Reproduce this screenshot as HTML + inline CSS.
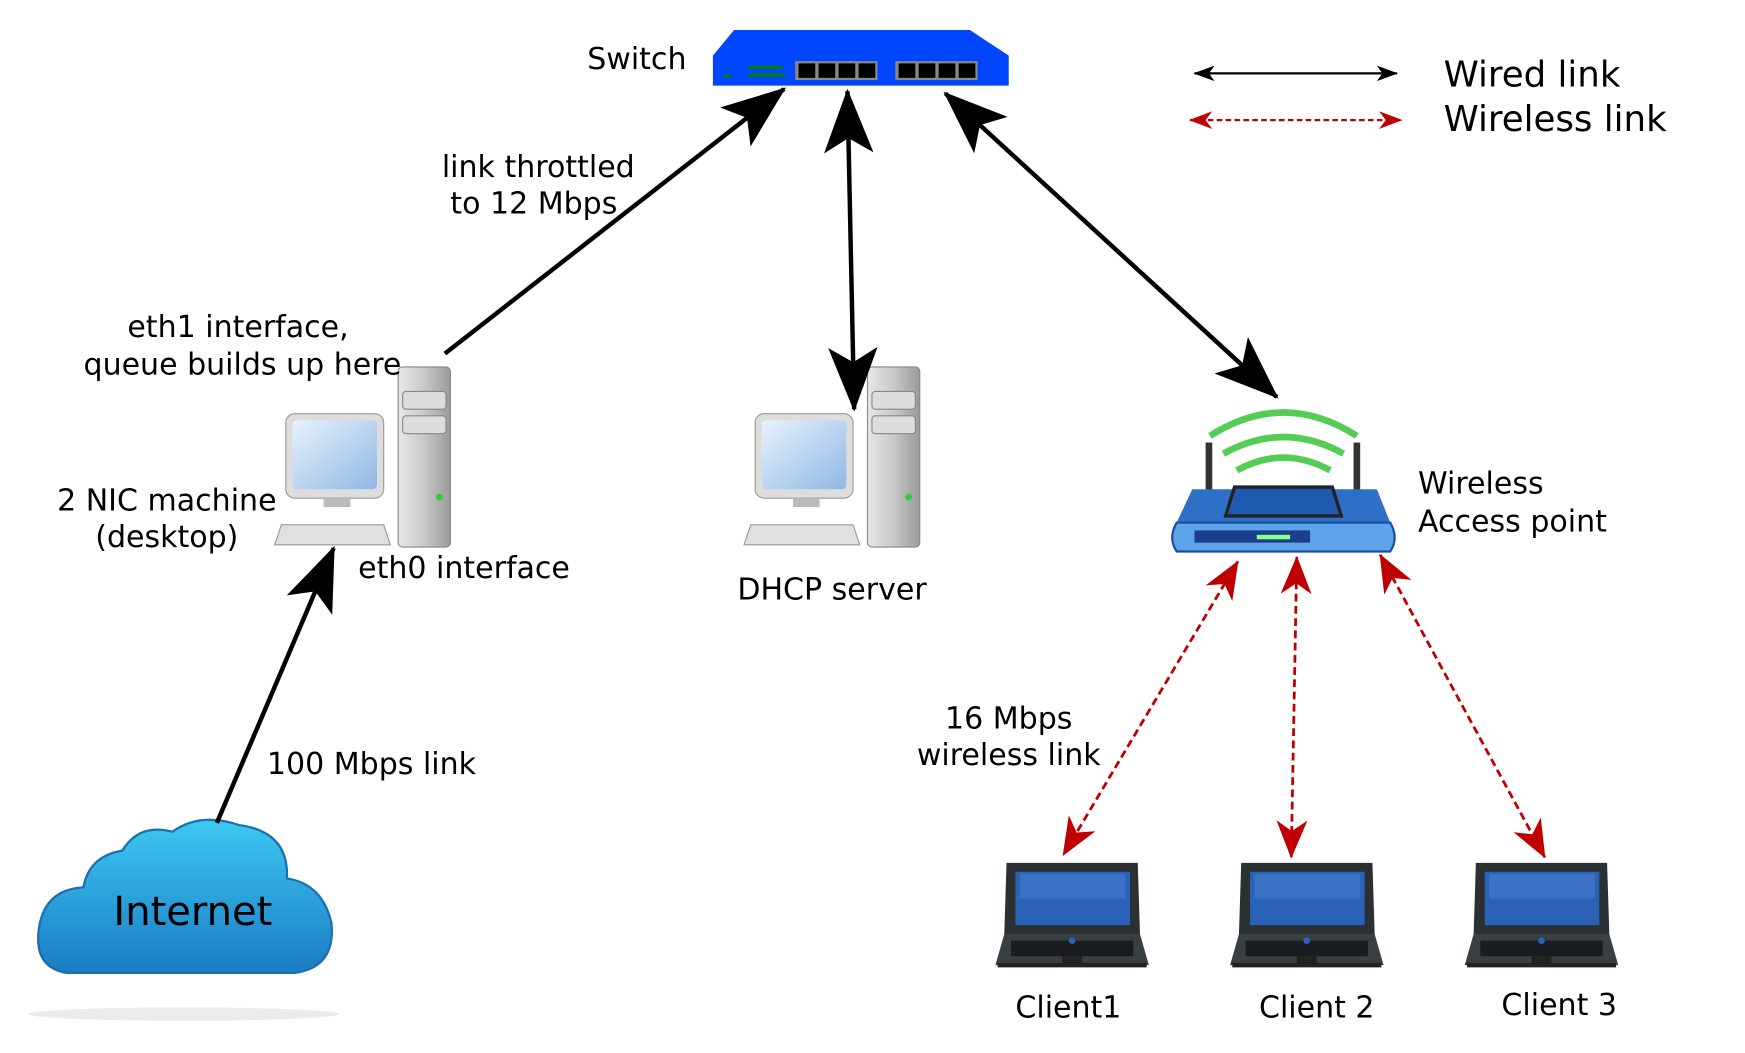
<!DOCTYPE html>
<html><head><meta charset="utf-8"><style>
html,body{margin:0;padding:0;background:#fff;}
svg{display:block;}
text{font-family:"DejaVu Sans","Liberation Sans",sans-serif;fill:#000;}
</style></head><body>
<svg width="1745" height="1053" viewBox="0 0 1569 947" preserveAspectRatio="none" xmlns="http://www.w3.org/2000/svg">
<defs>
<marker id="bk" markerUnits="userSpaceOnUse" markerWidth="60" markerHeight="50" viewBox="-50 -22 54 44" refX="0" refY="0" orient="auto-start-reverse">
<path d="M2,0 L-50,-20 L-38,0 L-50,20 Z" fill="#000"/></marker>
<marker id="bks" markerUnits="userSpaceOnUse" markerWidth="24" markerHeight="16" viewBox="-20 -8 22 16" refX="0" refY="0" orient="auto-start-reverse">
<path d="M1,0 L-18,-7 L-13,0 L-18,7 Z" fill="#000"/></marker>
<marker id="rd" markerUnits="userSpaceOnUse" markerWidth="40" markerHeight="30" viewBox="-32 -14 34 28" refX="0" refY="0" orient="auto-start-reverse">
<path d="M1,0 L-31,-13 L-22,0 L-31,13 Z" fill="#c00000"/></marker>
<marker id="rds" markerUnits="userSpaceOnUse" markerWidth="26" markerHeight="18" viewBox="-22 -9 24 18" refX="0" refY="0" orient="auto-start-reverse">
<path d="M1,0 L-20,-8 L-14,0 L-20,8 Z" fill="#c00000"/></marker>
<linearGradient id="cl" x1="0" y1="0" x2="0" y2="1"><stop offset="0" stop-color="#3ec8f2"/><stop offset="1" stop-color="#1a7cc4"/></linearGradient>
<linearGradient id="tw" x1="0" y1="0" x2="1" y2="0"><stop offset="0" stop-color="#e8e8e8"/><stop offset="0.5" stop-color="#c8c8c8"/><stop offset="1" stop-color="#9a9a9a"/></linearGradient>
<linearGradient id="scr" x1="0" y1="0" x2="1" y2="1"><stop offset="0" stop-color="#e8f2fc"/><stop offset="1" stop-color="#8fb8e4"/></linearGradient>
<g id="pc">
<rect x="111" y="0" width="47" height="162" rx="4" fill="url(#tw)" stroke="#888"/>
<rect x="115" y="22" width="39" height="16" rx="3" fill="#ddd" stroke="#888"/>
<rect x="115" y="44" width="39" height="16" rx="3" fill="#ddd" stroke="#888"/>
<circle cx="148" cy="117" r="3" fill="#3c3"/>
<rect x="10" y="42" width="88" height="76" rx="8" fill="#ddd" stroke="#999"/>
<rect x="16" y="48" width="76" height="62" rx="4" fill="url(#scr)"/>
<rect x="44" y="118" width="24" height="8" fill="#bbb"/>
<path d="M6,142 L98,142 L104,160 L0,160 Z" fill="#e0e0e0" stroke="#999"/>
</g>
<g id="lap">
<path d="M10,0 L128,0 L130,64 L8,64 Z" fill="#2b3033"/>
<rect x="18" y="8" width="103" height="48" fill="#2a62b8"/>
<rect x="22" y="10" width="95" height="22" fill="#4b82d4" opacity="0.5"/>
<path d="M8,64 L130,64 L138,92 L0,92 Z" fill="#3a3f42"/>
<rect x="14" y="70" width="110" height="14" fill="#1a1d1f"/>
<rect x="60" y="84" width="18" height="6" fill="#222"/>
<circle cx="69" cy="70" r="3" fill="#2a62b8"/>
<rect x="2" y="90" width="134" height="4" fill="#222"/>
</g>
</defs>

<path d="M660,27 L872,27 L907,50 L907,77 L641,77 L641,50 Z" fill="#0046ff"/>
<rect x="715" y="55" width="74" height="17" fill="#888"/>
<rect x="805" y="55" width="74" height="17" fill="#888"/>
<g fill="#000">
<rect x="718" y="57" width="15" height="13"/><rect x="736" y="57" width="15" height="13"/><rect x="754" y="57" width="15" height="13"/><rect x="772" y="57" width="15" height="13"/>
<rect x="808" y="57" width="15" height="13"/><rect x="826" y="57" width="15" height="13"/><rect x="844" y="57" width="15" height="13"/><rect x="862" y="57" width="15" height="13"/>
</g>
<g fill="#0a7a0a"><rect x="673" y="59" width="30" height="3"/><rect x="673" y="66" width="33" height="3"/><rect x="651" y="67" width="6" height="3"/></g>
<text x="528" y="62" font-size="27">Switch</text>

<line x1="1074" y1="66" x2="1256" y2="66" stroke="#000" stroke-width="2" marker-start="url(#bks)" marker-end="url(#bks)"/>
<line x1="1070" y1="108" x2="1260" y2="108" stroke="#c00000" stroke-width="2" stroke-dasharray="5,3" marker-start="url(#rds)" marker-end="url(#rds)"/>
<text x="1298" y="78" font-size="32">Wired link</text>
<text x="1298" y="118" font-size="32">Wireless link</text>

<use href="#pc" x="247" y="330"/>
<use href="#pc" x="669" y="330"/>

<g>
<path d="M1088,392 Q1154,350 1220,392" stroke="#5c5" stroke-width="6" fill="none"/>
<path d="M1100,408 Q1154,378 1208,408" stroke="#5c5" stroke-width="6" fill="none"/>
<path d="M1112,423 Q1154,400 1196,423" stroke="#5c5" stroke-width="6" fill="none"/>
<rect x="1084" y="398" width="6" height="46" fill="#333"/>
<rect x="1217" y="398" width="6" height="46" fill="#333"/>
<path d="M1072,440 L1238,440 L1250,470 L1058,470 Z" fill="#2e6fc8"/>
<path d="M1110,438 L1198,438 L1206,464 L1102,464 Z" fill="#1e5ab0" stroke="#222" stroke-width="3"/>
<path d="M1058,470 L1250,470 Q1258,484 1250,496 L1058,496 Q1050,484 1058,470 Z" fill="#5ea4ea" stroke="#1a4fa0" stroke-width="2"/>
<rect x="1074" y="477" width="104" height="11" fill="#1c3f8c"/>
<rect x="1130" y="481" width="30" height="4" fill="#8f8"/>
</g>
<text x="1275" y="444" font-size="27">Wireless</text>
<text x="1275" y="478" font-size="27">Access point</text>

<use href="#lap" x="895" y="776"/>
<use href="#lap" x="1106" y="776"/>
<use href="#lap" x="1317" y="776"/>
<text x="913" y="915" font-size="27">Client1</text>
<text x="1132" y="915" font-size="27">Client 2</text>
<text x="1350" y="913" font-size="27">Client 3</text>

<ellipse cx="165" cy="912" rx="140" ry="6" fill="#ddd" opacity="0.6"/>
<path d="M60,875 Q30,870 35,835 Q40,800 75,798 Q80,770 110,765 Q125,740 155,748 Q180,730 215,742 Q260,748 258,790 Q290,795 298,830 Q302,870 265,875 Z" fill="url(#cl)" stroke="#1a6fb0" stroke-width="2"/>
<text x="102" y="832" font-size="36">Internet</text>

<line x1="400" y1="318" x2="705" y2="80" stroke="#000" stroke-width="4" marker-end="url(#bk)"/>
<line x1="762" y1="82" x2="768" y2="368" stroke="#000" stroke-width="4" marker-start="url(#bk)" marker-end="url(#bk)"/>
<line x1="850" y1="84" x2="1148" y2="357" stroke="#000" stroke-width="4" marker-start="url(#bk)" marker-end="url(#bk)"/>
<line x1="195" y1="740" x2="300" y2="493" stroke="#000" stroke-width="4" marker-end="url(#bk)"/>

<g stroke="#c00000" stroke-width="2.5" stroke-dasharray="7,4" fill="none">
<line x1="1113" y1="505" x2="956" y2="769" marker-start="url(#rd)" marker-end="url(#rd)"/>
<line x1="1166" y1="501" x2="1161" y2="771" marker-start="url(#rd)" marker-end="url(#rd)"/>
<line x1="1241" y1="499" x2="1389" y2="771" marker-start="url(#rd)" marker-end="url(#rd)"/>
</g>

<text x="484" y="159" font-size="27" text-anchor="middle">link throttled</text>
<text x="480" y="192" font-size="27" text-anchor="middle">to 12 Mbps</text>
<text x="214" y="303" font-size="27" text-anchor="middle">eth1 interface,</text>
<text x="218" y="337" font-size="27" text-anchor="middle">queue builds up here</text>
<text x="150" y="459" font-size="27" text-anchor="middle">2  NIC machine</text>
<text x="150" y="492" font-size="27" text-anchor="middle">(desktop)</text>
<text x="322" y="520" font-size="27">eth0 interface</text>
<text x="663" y="539" font-size="27">DHCP server</text>
<text x="240" y="696" font-size="27">100 Mbps link</text>
<text x="907" y="655" font-size="27" text-anchor="middle">16 Mbps</text>
<text x="907" y="688" font-size="27" text-anchor="middle">wireless link</text>
</svg>
</body></html>
